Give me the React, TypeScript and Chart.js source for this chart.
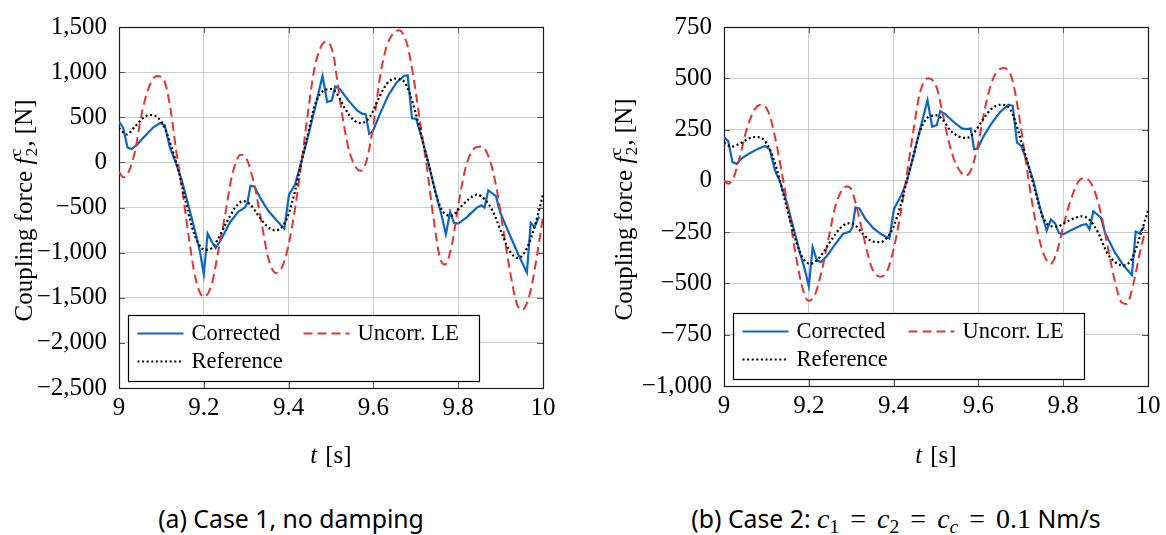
import React, { useEffect, useRef } from 'react';
import { Chart, registerables } from 'chart.js';

Chart.register(...registerables);

const SERIF = "'Liberation Serif', 'DejaVu Serif', serif";
const SANS = "'Noto Sans', 'Open Sans', sans-serif";
const BLUE = '#0b66c6';
const RED = '#e6332e';
const BLACK = '#000000';
const GRID = '#cdcdcd';

const X_TICKS = [9, 9.2, 9.4, 9.6, 9.8, 10];
const Y_TICKS_1 = [-2500, -2000, -1500, -1000, -500, 0, 500, 1000, 1500];
const Y_TICKS_2 = [-1000, -750, -500, -250, 0, 250, 500, 750];
const SERIES_LABELS = ['Corrected', 'Uncorr. LE', 'Reference'];

// ---------- Case 1, no damping ----------
const c1CorrT = [9.000, 9.010, 9.020, 9.030, 9.042, 9.061, 9.081, 9.097, 9.108, 9.120, 9.132, 9.148, 9.164, 9.180, 9.191, 9.200, 9.209, 9.219, 9.228, 9.242, 9.262, 9.281, 9.297, 9.303, 9.310, 9.319, 9.333, 9.352, 9.372, 9.390, 9.401, 9.415, 9.431, 9.447, 9.462, 9.480, 9.491, 9.502, 9.510, 9.521, 9.541, 9.561, 9.572, 9.582, 9.590, 9.598, 9.616, 9.635, 9.655, 9.672, 9.681, 9.691, 9.701, 9.714, 9.730, 9.745, 9.761, 9.771, 9.781, 9.790, 9.800, 9.820, 9.844, 9.855, 9.862, 9.871, 9.889, 9.899, 9.922, 9.942, 9.962, 9.971, 9.980, 9.991];
const c1CorrF = [453, 381, 165, 147, 194, 291, 388, 435, 410, 165, 21, -195, -483, -771, -987, -1239, -789, -879, -951, -843, -663, -548, -501, -447, -260, -267, -393, -537, -645, -735, -357, -249, 21, 309, 597, 957, 669, 687, 842, 813, 687, 579, 543, 532, 316, 338, 543, 741, 885, 957, 964, 489, 482, 273, -15, -303, -591, -796, -548, -670, -678, -609, -501, -476, -501, -310, -375, -555, -807, -1023, -1221, -670, -717, -600];

const c1UncT = [9.000, 9.010, 9.026, 9.038, 9.053, 9.069, 9.089, 9.105, 9.120, 9.136, 9.148, 9.164, 9.180, 9.200, 9.219, 9.234, 9.250, 9.266, 9.287, 9.301, 9.320, 9.336, 9.352, 9.370, 9.384, 9.400, 9.415, 9.431, 9.447, 9.462, 9.488, 9.505, 9.514, 9.529, 9.545, 9.570, 9.584, 9.600, 9.616, 9.631, 9.660, 9.679, 9.694, 9.710, 9.726, 9.742, 9.757, 9.769, 9.785, 9.800, 9.816, 9.836, 9.855, 9.875, 9.891, 9.906, 9.922, 9.938, 9.951, 9.969, 9.985, 10.000];
const c1UncF = [-105, -166, -69, 129, 525, 813, 957, 921, 633, 93, -267, -807, -1275, -1491, -1347, -987, -591, -159, 85, 39, -267, -663, -1059, -1225, -1167, -915, -519, 21, 597, 1065, 1338, 1209, 930, 453, 93, -94, 21, 417, 957, 1281, 1464, 1317, 957, 453, -51, -627, -1059, -1131, -915, -483, -87, 147, 175, 21, -303, -735, -1203, -1563, -1635, -1455, -1059, -600];

const c1RefT = [9.000, 9.018, 9.038, 9.061, 9.077, 9.093, 9.108, 9.124, 9.140, 9.156, 9.171, 9.187, 9.203, 9.219, 9.234, 9.254, 9.274, 9.293, 9.309, 9.329, 9.349, 9.368, 9.384, 9.400, 9.415, 9.431, 9.447, 9.462, 9.482, 9.502, 9.514, 9.533, 9.553, 9.572, 9.592, 9.612, 9.631, 9.651, 9.671, 9.686, 9.702, 9.718, 9.734, 9.749, 9.765, 9.785, 9.804, 9.824, 9.844, 9.863, 9.883, 9.903, 9.922, 9.942, 9.962, 9.981, 10.000];
const c1RefF = [381, 309, 399, 507, 525, 489, 381, 165, -87, -411, -699, -897, -969, -951, -843, -663, -501, -429, -465, -591, -706, -753, -717, -573, -321, 21, 345, 633, 795, 813, 759, 597, 471, 435, 507, 705, 867, 928, 903, 759, 507, 201, -87, -375, -555, -591, -501, -411, -357, -411, -555, -789, -987, -1059, -951, -699, -357];

// ---------- Case 2: c1 = c2 = cc = 0.1 Nm/s ----------
const c2CorrT = [9.000, 9.010, 9.020, 9.030, 9.042, 9.061, 9.081, 9.097, 9.108, 9.120, 9.132, 9.148, 9.164, 9.180, 9.191, 9.200, 9.209, 9.219, 9.228, 9.242, 9.262, 9.281, 9.297, 9.303, 9.310, 9.319, 9.333, 9.352, 9.372, 9.390, 9.401, 9.419, 9.431, 9.447, 9.462, 9.480, 9.491, 9.502, 9.510, 9.521, 9.541, 9.561, 9.572, 9.582, 9.590, 9.598, 9.612, 9.631, 9.651, 9.671, 9.681, 9.691, 9.701, 9.714, 9.730, 9.745, 9.761, 9.771, 9.781, 9.790, 9.800, 9.820, 9.844, 9.855, 9.862, 9.871, 9.889, 9.899, 9.922, 9.942, 9.962, 9.971, 9.980, 9.991];
const c2CorrF = [214, 193, 91, 83, 110, 135, 157, 170, 154, 52, -3, -105, -231, -357, -435, -514, -322, -388, -396, -368, -310, -258, -247, -226, -129, -134, -184, -231, -262, -281, -137, -66, -3, 123, 248, 393, 264, 272, 340, 327, 288, 256, 252, 255, 154, 157, 217, 280, 335, 371, 366, 186, 170, 99, -3, -129, -242, -189, -207, -255, -261, -239, -215, -211, -236, -148, -179, -255, -349, -412, -459, -247, -255, -223];

const c2UncT = [9.000, 9.010, 9.022, 9.038, 9.053, 9.073, 9.089, 9.105, 9.120, 9.136, 9.152, 9.167, 9.183, 9.199, 9.215, 9.230, 9.246, 9.262, 9.278, 9.290, 9.300, 9.313, 9.329, 9.348, 9.368, 9.384, 9.400, 9.415, 9.431, 9.447, 9.462, 9.482, 9.502, 9.514, 9.529, 9.545, 9.561, 9.570, 9.584, 9.600, 9.616, 9.635, 9.659, 9.679, 9.694, 9.710, 9.726, 9.742, 9.757, 9.770, 9.785, 9.800, 9.816, 9.836, 9.852, 9.871, 9.891, 9.906, 9.922, 9.938, 9.950, 9.965, 9.981, 9.994];
const c2UncF = [0, -14, 13, 123, 248, 351, 371, 335, 217, 44, -145, -333, -506, -585, -553, -443, -286, -129, -45, -27, -40, -129, -270, -420, -467, -443, -333, -176, 28, 248, 429, 500, 453, 345, 201, 91, 36, 25, 60, 185, 359, 500, 550, 500, 343, 123, -97, -270, -372, -404, -349, -223, -105, -3, 13, -34, -176, -333, -490, -593, -600, -506, -349, -239];

const c2RefT = [9.000, 9.018, 9.038, 9.061, 9.077, 9.093, 9.108, 9.124, 9.140, 9.156, 9.171, 9.187, 9.203, 9.219, 9.234, 9.254, 9.274, 9.293, 9.309, 9.329, 9.349, 9.368, 9.384, 9.400, 9.415, 9.431, 9.447, 9.462, 9.482, 9.502, 9.514, 9.533, 9.553, 9.572, 9.592, 9.612, 9.631, 9.651, 9.671, 9.686, 9.702, 9.718, 9.734, 9.749, 9.765, 9.785, 9.804, 9.824, 9.844, 9.863, 9.883, 9.903, 9.922, 9.942, 9.962, 9.981, 10.000];
const c2RefF = [186, 167, 182, 209, 214, 201, 154, 60, -66, -192, -302, -380, -404, -388, -349, -286, -231, -207, -215, -262, -294, -299, -278, -223, -129, -3, 123, 241, 311, 319, 303, 248, 217, 209, 241, 303, 351, 371, 359, 296, 186, 75, -50, -160, -215, -223, -204, -184, -173, -192, -255, -349, -396, -412, -380, -270, -145];

const CANVAS_W = 583;
const CANVAS_H = 480;

function pts(t: number[], f: number[]) {
  return t.map((x, i) => ({ x, y: f[i] }));
}

function fmtY(v: number) {
  const a = Math.abs(Math.round(v));
  const s = a >= 1000 ? Math.floor(a / 1000) + ',' + String(a % 1000).padStart(3, '0') : String(a);
  return v < 0 ? '\u2212' + s : s;
}

function fmtX(v: number) {
  const r = Math.round(v * 10) / 10;
  return r % 1 === 0 ? r.toFixed(0) : r.toFixed(1);
}

type Spec = {
  corrT: number[]; corrF: number[];
  uncT: number[]; uncF: number[];
  refT: number[]; refF: number[];
  yTicks: number[];
  plotLeft: number; plotRight: number; plotTop: number; plotBottom: number;
  yTitleBaseline: number; xTitleBaseline: number;
};

function makeDecor(spec: Spec) {
  return {
    id: 'pgfDecor',
    beforeDatasetsDraw(chart: any) {
      const { ctx, chartArea } = chart;
      const { left, right, top, bottom } = chartArea;
      const xs = chart.scales.x;
      const ys = chart.scales.y;
      ctx.save();
      ctx.strokeStyle = '#5a5a5a';
      ctx.lineWidth = 1;
      ctx.beginPath();
      X_TICKS.forEach((v) => {
        const px = Math.round(xs.getPixelForValue(v)) + 0.5;
        ctx.moveTo(px, bottom); ctx.lineTo(px, bottom - 6);
        ctx.moveTo(px, top); ctx.lineTo(px, top + 6);
      });
      spec.yTicks.forEach((v) => {
        const py = Math.round(ys.getPixelForValue(v)) + 0.5;
        ctx.moveTo(left, py); ctx.lineTo(left + 6, py);
        ctx.moveTo(right, py); ctx.lineTo(right - 6, py);
      });
      ctx.stroke();
      ctx.strokeStyle = '#1a1a1a';
      ctx.lineWidth = 1.2;
      ctx.strokeRect(Math.round(left) + 0.5, Math.round(top) + 0.5, Math.round(right - left), Math.round(bottom - top));
      ctx.restore();
    },
    afterDraw(chart: any) {
      const { ctx, chartArea } = chart;
      const { left, right, top, bottom } = chartArea;
      ctx.save();
      const bx = Math.round(left) + 9.5;
      const by = Math.round(bottom) - 72.5;
      const bw = 351;
      const bh = 66;
      ctx.fillStyle = '#ffffff';
      ctx.fillRect(bx, by, bw, bh);
      ctx.strokeStyle = '#000000';
      ctx.lineWidth = 1.2;
      ctx.strokeRect(bx, by, bw, bh);
      const slots = [
        { x: bx + 9, y: by + 18 },
        { x: bx + 175, y: by + 18 },
        { x: bx + 9, y: by + 46 },
      ];
      ctx.font = `22.5px ${SERIF}`;
      ctx.textBaseline = 'middle';
      ctx.textAlign = 'left';
      chart.data.datasets.forEach((ds: any, i: number) => {
        const s = slots[i];
        ctx.save();
        ctx.strokeStyle = ds.borderColor;
        ctx.lineWidth = ds.borderWidth;
        ctx.setLineDash(ds.borderDash || []);
        ctx.beginPath();
        ctx.moveTo(s.x, s.y);
        ctx.lineTo(s.x + 46, s.y);
        ctx.stroke();
        ctx.restore();
        ctx.fillStyle = '#000';
        ctx.fillText(ds.label, s.x + 54, s.y + 1);
      });

      // x-axis title: t [s]
      ctx.fillStyle = '#000';
      ctx.textBaseline = 'alphabetic';
      const fi = `italic 25px ${SERIF}`;
      const fr = `25px ${SERIF}`;
      ctx.font = fi; const wT = ctx.measureText('t').width + 8;
      ctx.font = fr; const wS = ctx.measureText('[s]').width;
      const x0 = (left + right) / 2 - (wT + wS) / 2;
      ctx.font = fi; ctx.fillText('t', x0, spec.xTitleBaseline);
      ctx.font = fr; ctx.fillText('[s]', x0 + wT, spec.xTitleBaseline);

      // y-axis title: Coupling force f_2^c, [N]
      const fs = `17px ${SERIF}`;
      ctx.font = fr; const w1 = ctx.measureText('Coupling force ').width;
      ctx.font = fi; const wf = ctx.measureText('f').width + 1.5;
      ctx.font = fs; const wsub = Math.max(ctx.measureText('2').width, ctx.measureText('c').width) + 1;
      ctx.font = fr; const w3 = ctx.measureText(', [N]').width;
      const total = w1 + wf + wsub + w3;
      ctx.translate(spec.yTitleBaseline, (top + bottom) / 2 + 3);
      ctx.rotate(-Math.PI / 2);
      let x = -total / 2;
      ctx.font = fr; ctx.fillText('Coupling force ', x, 0); x += w1;
      ctx.font = fi; ctx.fillText('f', x, 0); x += wf;
      ctx.font = fs; ctx.fillText('2', x, 5); ctx.fillText('c', x, -11); x += wsub;
      ctx.font = fr; ctx.fillText(', [N]', x, 0);
      ctx.restore();
    },
  };
}

function makeChart(canvas: HTMLCanvasElement, spec: Spec) {
  const serifTick = { family: SERIF, size: 25 };
  return new Chart(canvas, {
    type: 'line',
    data: {
      datasets: [
        {
          label: SERIES_LABELS[0], data: pts(spec.corrT, spec.corrF),
          borderColor: BLUE, borderWidth: 2.2, pointRadius: 0, tension: 0, order: 2,
        },
        {
          label: SERIES_LABELS[1], data: pts(spec.uncT, spec.uncF),
          borderColor: RED, borderWidth: 2, borderDash: [9, 5], pointRadius: 0,
          cubicInterpolationMode: 'monotone', order: 1,
        },
        {
          label: SERIES_LABELS[2], data: pts(spec.refT, spec.refF),
          borderColor: BLACK, borderWidth: 2.2, borderDash: [2, 2.6], pointRadius: 0,
          cubicInterpolationMode: 'monotone', order: 0,
        },
      ],
    } as any,
    options: {
      responsive: false,
      animation: false,
      devicePixelRatio: 1,
      layout: { padding: { left: 0, top: spec.plotTop, right: CANVAS_W - spec.plotRight, bottom: 0 } },
      plugins: { legend: { display: false }, tooltip: { enabled: false }, title: { display: false } },
      scales: {
        x: {
          type: 'linear',
          min: X_TICKS[0],
          max: X_TICKS[X_TICKS.length - 1],
          afterBuildTicks: (s: any) => { s.ticks = X_TICKS.map((value) => ({ value })); },
          afterFit: (s: any) => { s.height = CANVAS_H - spec.plotBottom; },
          ticks: { callback: (v: any) => fmtX(Number(v)), font: serifTick, color: '#000', padding: 5, maxRotation: 0, autoSkip: false },
          grid: { color: GRID, lineWidth: 1, drawTicks: false },
          border: { display: false },
        },
        y: {
          type: 'linear',
          min: spec.yTicks[0],
          max: spec.yTicks[spec.yTicks.length - 1],
          afterBuildTicks: (s: any) => { s.ticks = spec.yTicks.map((value) => ({ value })); },
          afterFit: (s: any) => { s.width = spec.plotLeft; },
          ticks: { callback: (v: any) => fmtY(Number(v)), font: serifTick, color: '#000', padding: 12, autoSkip: false },
          grid: { color: GRID, lineWidth: 1, drawTicks: false },
          border: { display: false },
        },
      },
    } as any,
    plugins: [makeDecor(spec) as any],
  });
}

const spec1: Spec = {
  corrT: c1CorrT, corrF: c1CorrF, uncT: c1UncT, uncF: c1UncF, refT: c1RefT, refF: c1RefF,
  yTicks: Y_TICKS_1, plotLeft: 119, plotRight: 543, plotTop: 18, plotBottom: 388,
  yTitleBaseline: 32, xTitleBaseline: 463,
};
const spec2: Spec = {
  corrT: c2CorrT, corrF: c2CorrF, uncT: c2UncT, uncF: c2UncF, refT: c2RefT, refF: c2RefF,
  yTicks: Y_TICKS_2, plotLeft: 141, plotRight: 565, plotTop: 16, plotBottom: 386,
  yTitleBaseline: 49, xTitleBaseline: 463,
};

function M({ b, s, si }: { b: string; s: string; si?: boolean }) {
  return (
    <span style={{ fontFamily: SERIF, fontStyle: 'italic' }}>
      {b}
      <sub style={{ fontSize: '0.7em', fontStyle: si ? 'italic' : 'normal', verticalAlign: '-0.25em', lineHeight: 0 }}>{s}</sub>
    </span>
  );
}

const EQ = () => <span style={{ margin: '0 11px' }}>=</span>;

export default function App() {
  const ref1 = useRef<HTMLCanvasElement>(null);
  const ref2 = useRef<HTMLCanvasElement>(null);
  useEffect(() => {
    const a = makeChart(ref1.current as HTMLCanvasElement, spec1);
    const b = makeChart(ref2.current as HTMLCanvasElement, spec2);
    return () => { a.destroy(); b.destroy(); };
  }, []);
  const cap: React.CSSProperties = {
    position: 'absolute', top: 502, fontFamily: SANS, fontSize: 24.8, lineHeight: '32px',
    textAlign: 'center', whiteSpace: 'nowrap', color: '#000',
  };
  const ser: React.CSSProperties = { fontFamily: SERIF, fontSize: 28 };
  return (
    <div style={{ position: 'absolute', left: 0, top: 0, width: 1166, height: 535, background: '#fff', overflow: 'hidden' }}>
      <canvas ref={ref1} width={CANVAS_W} height={CANVAS_H} style={{ position: 'absolute', left: 0, top: 0 }} />
      <canvas ref={ref2} width={CANVAS_W} height={CANVAS_H} style={{ position: 'absolute', left: CANVAS_W, top: 0 }} />
      <div style={{ ...cap, left: 291 - 250, width: 500 }}>(a) Case 1, no damping</div>
      <div style={{ ...cap, left: 896 - 300, width: 600 }}>
        (b) Case 2: <span style={ser}><M b="c" s="1" /><EQ /><M b="c" s="2" /><EQ /><M b="c" s="c" si /><EQ />0.1</span> Nm/s
      </div>
    </div>
  );
}
